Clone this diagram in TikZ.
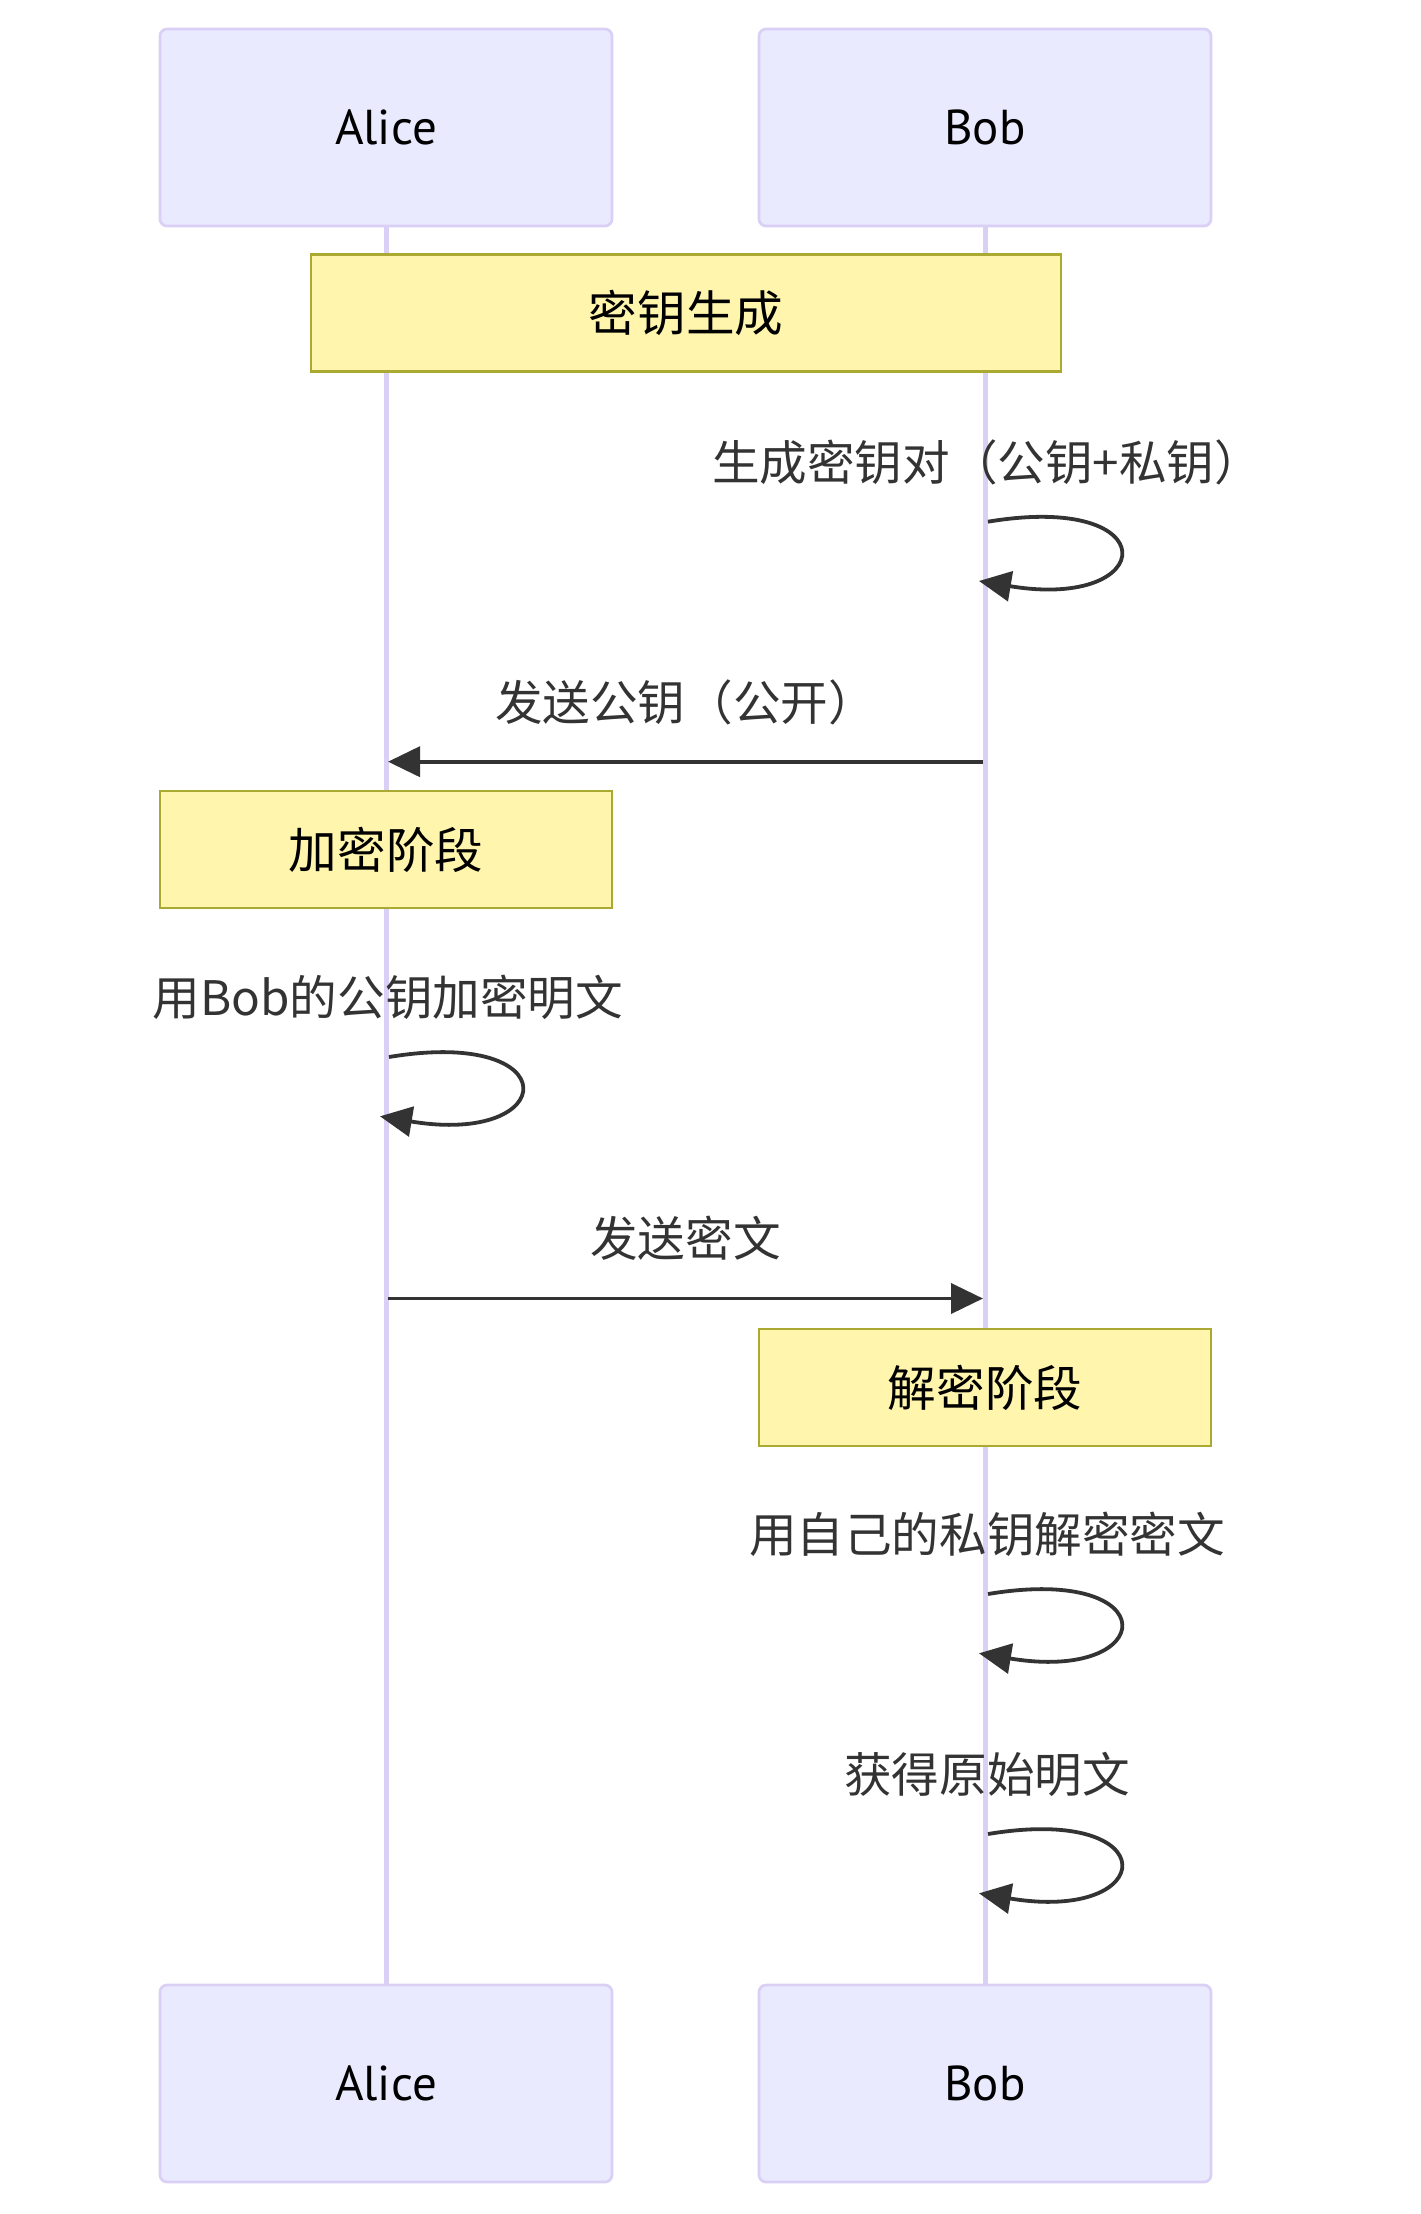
\documentclass[tikz,border=0pt]{standalone}
\usepackage{fontspec}
\setmainfont{Noto Sans CJK SC}
\newfontfamily\actorfont{PT Sans}
\usetikzlibrary{arrows.meta,positioning}
\definecolor{actorfill}{RGB}{234,234,255}
\definecolor{actorline}{RGB}{218,208,245}
\definecolor{notefill}{RGB}{255,245,173}
\definecolor{noteline}{RGB}{170,170,51}
\definecolor{msgdark}{RGB}{51,51,51}

\begin{document}
\begin{tikzpicture}[x=0.5pt, y=-0.5pt, >={Triangle[length=16pt,width=15pt]},
  every node/.style={font=\fontsize{23.8}{28}\selectfont},
  actor/.style={draw=actorline, fill=actorfill, line width=1.35pt, rounded corners=3.5pt,
    minimum width=226pt, minimum height=98.5pt, inner sep=0pt,
    font=\fontsize{24.5}{28}\selectfont\actorfont},
  note/.style={draw=noteline, fill=notefill, line width=1.35pt,
    minimum width=226pt, minimum height=58.5pt, inner sep=0pt,
    font=\fontsize{24.3}{28}\selectfont},
  lifeline/.style={actorline, line width=2.5pt},
  msgtext/.style={text=msgdark, inner sep=0pt},
  msg/.style={msgdark, line width=1.9pt}]

  \useasboundingbox (0,0) rectangle (1420,2214);

  % ========== ACTORS ==========
  \node[actor] (aliceTop) at (386,127.5) {Alice};
  \node[actor] (bobTop) at (985,127.5) {Bob};
  \node[actor] (aliceBot) at (386,2083.5) {Alice};
  \node[actor] (bobBot) at (985,2083.5) {Bob};

  % Lifelines
  \draw[lifeline] (aliceTop) -- (aliceBot);
  \draw[lifeline] (bobTop) -- (bobBot);

  % ========== NOTES ==========
  \node[note, minimum width=375pt] (keyGen) at (686,313) {密钥生成};
  \node[note] (encPhase) at (386,849.5) {加密阶段};
  \node[note] (decPhase) at (985,1387.5) {解密阶段};

  % ========== MESSAGES ==========
  % Bob generates the key pair
  \node[msgtext] (genText) at (987,462) {生成密钥对（公钥+私钥）};
  \coordinate (genA) at (988,521.7);
  \coordinate (genB) at (979,581);
  \draw[msg, ->] (genA) .. controls +(180,-30) and +(180,30) .. (genB);

  % Bob sends the public key
  \node[msgtext] (pubText) at (685.5,702) {发送公钥（公开）};
  \coordinate (pubA) at (983,761.7);
  \coordinate (pubB) at (388,761.7);
  \draw[msg, ->] (pubA) -- (pubB);

  % Alice encrypts
  \node[msgtext] (encText) at (388,997) {用Bob的公钥加密明文};
  \coordinate (encA) at (389,1057);
  \coordinate (encB) at (380,1116.3);
  \draw[msg, ->] (encA) .. controls +(180,-30) and +(180,30) .. (encB);

  % Alice sends the ciphertext
  \node[msgtext] (ciphText) at (685.5,1238.5) {发送密文};
  \coordinate (ciphA) at (388,1298.5);
  \coordinate (ciphB) at (983,1298.5);
  \draw[msg, ->] (ciphA) -- (ciphB);

  % Bob decrypts
  \node[msgtext] (decText) at (987,1534) {用自己的私钥解密密文};
  \coordinate (decA) at (988,1594);
  \coordinate (decB) at (979,1653.3);
  \draw[msg, ->] (decA) .. controls +(180,-30) and +(180,30) .. (decB);

  % Bob gets the plaintext
  \node[msgtext] (plainText) at (987,1774) {获得原始明文};
  \coordinate (plainA) at (988,1834);
  \coordinate (plainB) at (979,1893.3);
  \draw[msg, ->] (plainA) .. controls +(180,-30) and +(180,30) .. (plainB);

\end{tikzpicture}
\end{document}
